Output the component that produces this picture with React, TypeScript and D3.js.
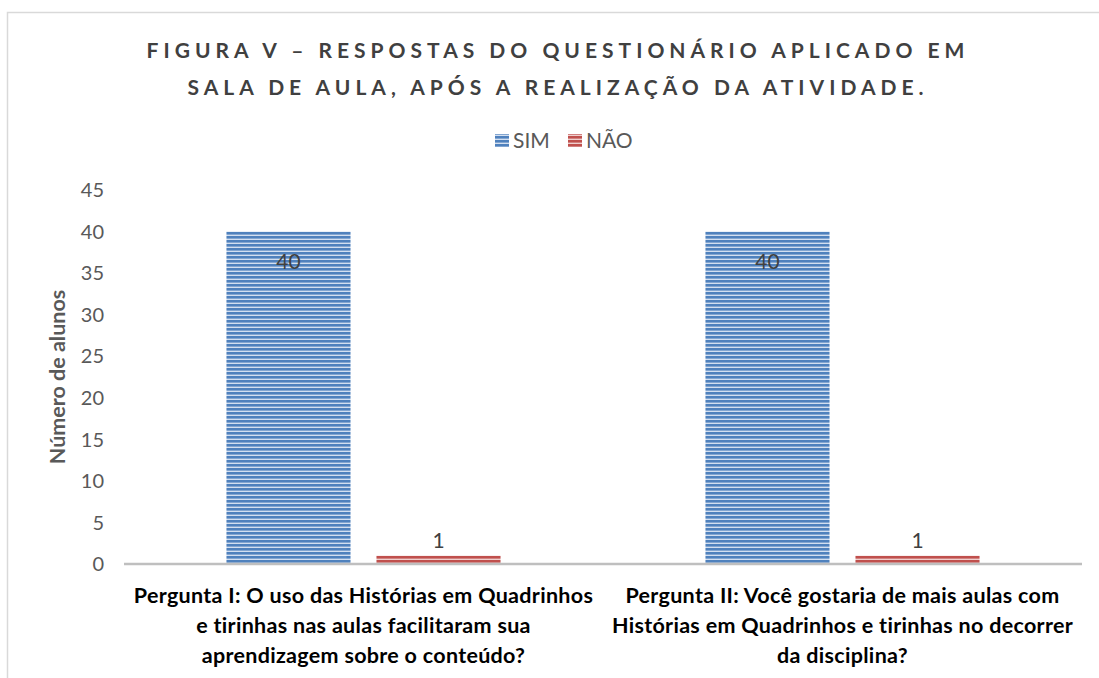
import * as d3 from "d3";
import React, { useEffect, useRef } from "react";

const titleLines = [
	"FIGURA V – RESPOSTAS DO QUESTIONÁRIO APLICADO EM",
	"SALA DE AULA, APÓS A REALIZAÇÃO DA ATIVIDADE.",
];
const categories = ["Pergunta I", "Pergunta II"];
const categoryLabels = [
	["Pergunta I: O uso das Histórias em Quadrinhos", "e tirinhas nas aulas facilitaram sua", "aprendizagem sobre o conteúdo?"],
	["Pergunta II: Você gostaria de mais aulas com", "Histórias em Quadrinhos e tirinhas no decorrer", "da disciplina?"],
];
const seriesNames = ["SIM", "NÃO"];
const simValues = [40, 40];
const naoValues = [1, 1];
const yTicks = [0, 5, 10, 15, 20, 25, 30, 35, 40, 45];
const yTitle = "Número de alunos";

const W = 1099;
const H = 678;
const FONT = "Lato, 'Open Sans', sans-serif";

export default function App() {
	const svgRef = useRef(null);

	useEffect(() => {
		const svg = d3.select(svgRef.current);
		svg.selectAll("*").remove();

		const left = 124;
		const right = 1082;
		const top = 190;
		const bottom = 564;

		// stripe patterns for the bars
		const defs = svg.append("defs");
		const stripes = [
			{ id: "stripe-sim", dark: "#4f81bd", light: "#d3dff0" },
			{ id: "stripe-nao", dark: "#c0504d", light: "#efcfce" },
		];
		stripes.forEach((s) => {
			const p = defs
				.append("pattern")
				.attr("id", s.id)
				.attr("patternUnits", "userSpaceOnUse")
				.attr("width", 8)
				.attr("height", 4);
			p.append("rect").attr("width", 8).attr("height", 4).attr("fill", s.light);
			p.append("rect").attr("width", 8).attr("height", 2.6).attr("fill", s.dark);
		});

		// outer chart border
		svg
			.append("rect")
			.attr("x", 7.5)
			.attr("y", 12.5)
			.attr("width", W + 20)
			.attr("height", H + 20)
			.attr("fill", "white")
			.attr("stroke", "#d9d9d9")
			.attr("stroke-width", 1.5);

		const x0 = d3.scaleBand().domain(categories).range([left, right]);
		const x1 = d3.scaleBand().domain(seriesNames).range([0, x0.bandwidth()]).paddingInner(0.173).paddingOuter(0.683);
		const y = d3.scaleLinear().domain([0, 45]).range([bottom, top]);

		// title
		svg
			.append("g")
			.selectAll()
			.data(titleLines)
			.join("text")
			.attr("x", 558)
			.attr("y", (d, i) => 58 + i * 37)
			.attr("text-anchor", "middle")
			.attr("font-family", FONT)
			.attr("font-weight", "bold")
			.attr("font-size", 21)
			.attr("letter-spacing", 5)
			.attr("fill", "#404040")
			.text((d) => d);

		// legend
		const legend = svg.append("g").attr("font-family", FONT).attr("font-size", 21).attr("fill", "#595959");
		const legendX = [495, 568];
		seriesNames.forEach((name, i) => {
			legend
				.append("rect")
				.attr("x", legendX[i])
				.attr("y", 134)
				.attr("width", 14)
				.attr("height", 13)
				.attr("fill", `url(#${stripes[i].id})`);
			legend
				.append("text")
				.attr("x", legendX[i] + 18)
				.attr("y", 148)
				.text(name);
		});

		// y axis labels
		svg
			.append("g")
			.attr("font-family", FONT)
			.attr("font-size", 20)
			.attr("fill", "#595959")
			.selectAll()
			.data(yTicks)
			.join("text")
			.attr("x", 104)
			.attr("y", (d) => y(d))
			.attr("dy", "0.36em")
			.attr("text-anchor", "end")
			.text((d) => d);

		svg
			.append("text")
			.attr("transform", `translate(65,${(top + bottom) / 2}) rotate(-90)`)
			.attr("text-anchor", "middle")
			.attr("font-family", FONT)
			.attr("font-weight", "bold")
			.attr("font-size", 21.5)
			.attr("fill", "#595959")
			.text(yTitle);

		// bars
		const series = [simValues, naoValues];
		const groups = svg
			.append("g")
			.selectAll()
			.data(categories)
			.join("g")
			.attr("transform", (d) => `translate(${x0(d)},0)`);

		seriesNames.forEach((name, si) => {
			groups
				.append("rect")
				.attr("x", x1(name))
				.attr("y", (d, ci) => y(series[si][ci]))
				.attr("width", x1.bandwidth())
				.attr("height", (d, ci) => bottom - y(series[si][ci]))
				.attr("fill", `url(#${stripes[si].id})`);
			groups
				.append("text")
				.attr("x", x1(name) + x1.bandwidth() / 2)
				.attr("y", (d, ci) => (si === 0 ? y(series[si][ci]) + 37 : y(series[si][ci]) - 8))
				.attr("text-anchor", "middle")
				.attr("font-family", FONT)
				.attr("font-size", 21)
				.attr("fill", "#404040")
				.text((d, ci) => series[si][ci]);
		});

		// x axis baseline
		svg
			.append("line")
			.attr("x1", left)
			.attr("x2", right)
			.attr("y1", bottom)
			.attr("y2", bottom)
			.attr("stroke", "#bfbfbf")
			.attr("stroke-width", 2.5);

		// category labels
		categories.forEach((c, ci) => {
			svg
				.append("g")
				.selectAll()
				.data(categoryLabels[ci])
				.join("text")
				.attr("x", x0(c) + x0.bandwidth() / 2)
				.attr("y", (d, i) => 603 + i * 30)
				.attr("text-anchor", "middle")
				.attr("font-family", FONT)
				.attr("font-weight", "bold")
				.attr("font-size", 21.5)
				.attr("letter-spacing", 0.3)
				.attr("fill", "#000000")
				.text((d) => d);
		});
	}, []);

	return (
		<div style={{ position: "absolute", left: 0, top: 0, width: W, height: H, background: "white" }}>
			<svg ref={svgRef} width={W} height={H} style={{ display: "block" }} />
		</div>
	);
}
